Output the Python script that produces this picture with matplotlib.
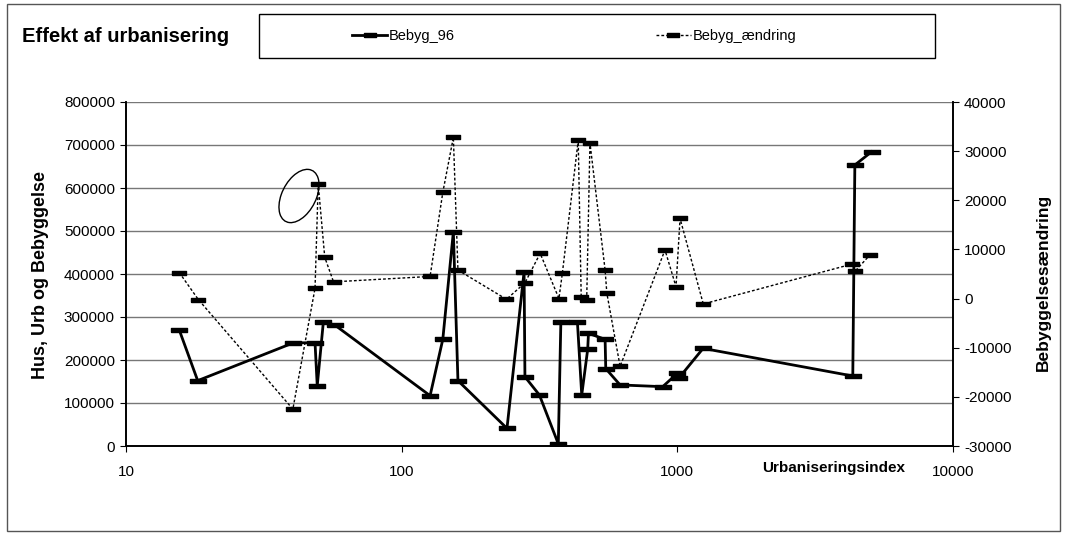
import matplotlib
matplotlib.use("Agg")
import matplotlib.pyplot as plt
from matplotlib.patches import Rectangle, Ellipse
from matplotlib.lines import Line2D

plt.rcParams['font.family'] = ['Liberation Sans', 'DejaVu Sans']

# Bebyg_96 (left axis)
bebyg96_x = [15.6, 18.2, 40.5, 48.5, 49.4, 52, 57.3, 126.8, 141, 154, 160,
             241, 278, 280, 316, 370, 378, 434, 450, 473, 476, 547, 550,
             620, 885, 1000, 1010, 1240, 4330, 4405, 5070]
bebyg96_y = [270000, 152000, 240000, 240000, 140000, 289000, 281000, 117000,
             248000, 498000, 152000, 41000, 405000, 161000, 118600, 5000,
             289000, 289000, 118600, 225000, 262000, 248000, 180000,
             142000, 138000, 169000, 157000, 227000, 162800, 653500, 684400]

# Bebyg_aendring (right axis)
aendring_x = [15.6, 18.3, 40.3, 48.5, 49.8, 52.6, 56.6, 126.8, 141, 154, 160,
              240, 280, 318, 372, 383, 437, 448, 469, 482, 547, 555, 620,
              902, 989, 1023, 1242, 4290, 4420, 5000]
aendring_y = [5300, -200, -22500, 2100, 23300, 8400, 3400, 4500, 21600, 32800,
              5800, -150, 3200, 9200, 0, 5300, 32200, 400, -300, 31700, 5800,
              1100, -13800, 9900, 2400, 16300, -1100, 7000, 5600, 8900]

left_ticks = [0, 100000, 200000, 300000, 400000, 500000, 600000, 700000, 800000]
right_ticks = [-30000, -20000, -10000, 0, 10000, 20000, 30000, 40000]
x_ticks = [10, 100, 1000, 10000]

W, H = 1067, 535
fig = plt.figure(figsize=(W / 100, H / 100), dpi=100)
ax = fig.add_axes([126 / W, 1 - 446 / H, (953 - 126) / W, (446 - 102) / H])
ax2 = ax.twinx()

# horizontal bar markers like the excel chart
bar = [(-1, -0.28), (1, -0.28), (1, 0.28), (-1, 0.28), (-1, -0.28)]

ax.plot(bebyg96_x, bebyg96_y, color='black', lw=2.0, marker=bar,
        markersize=11, zorder=3)
ax2.plot(aendring_x, aendring_y, color='black', lw=1.0, ls=(0, (2, 1.5)),
         marker=bar, markersize=10, zorder=3)

ax.set_xscale('log')
ax.set_xlim(10, 10000)
ax.set_ylim(0, 800000)
ax2.set_ylim(-30000, 40000)
ax.set_xticks(x_ticks)
ax.set_xticklabels([str(v) for v in x_ticks])
ax.xaxis.set_minor_locator(matplotlib.ticker.NullLocator())
ax.set_yticks(left_ticks)
ax.set_yticklabels([str(v) for v in left_ticks])
ax2.set_yticks(right_ticks)
ax2.set_yticklabels([str(v) for v in right_ticks])

for v in left_ticks:
    ax.axhline(v, color='#777777', lw=1.0, zorder=1)

ax.spines['top'].set_visible(False)
ax2.spines['top'].set_visible(False)
for a in (ax, ax2):
    for s in a.spines.values():
        s.set_linewidth(1.2)
ax.tick_params(axis='x', direction='out', length=4, pad=10, labelsize=11)
ax.tick_params(axis='y', direction='out', length=4, pad=4, labelsize=11)
ax2.tick_params(axis='y', direction='out', length=4, pad=4, labelsize=11)

fig.text(41 / W, 1 - 275 / H, 'Hus, Urb og Bebyggelse', rotation=90,
         ha='center', va='center', fontsize=13, fontweight='bold')
fig.text(1043 / W, 1 - 282 / H, 'Bebyggelsesændring', rotation=90,
         ha='center', va='center', fontsize=12.5, fontweight='bold')
fig.text(834 / W, 1 - 468 / H, 'Urbaniseringsindex', ha='center',
         va='center', fontsize=11, fontweight='bold')
fig.text(22 / W, 1 - 37 / H, 'Effekt af urbanisering', ha='left',
         va='center', fontsize=14.5, fontweight='bold')

# legend frame and entries
fig.patches.append(Rectangle((259 / W, 1 - 58 / H), 676 / W, 44 / H,
                             transform=fig.transFigure, fill=False,
                             edgecolor='black', lw=1.0))
h1 = Line2D([], [], color='black', lw=2.0, marker=bar, markersize=9)
h2 = Line2D([], [], color='black', lw=1.0, ls=(0, (2, 1.5)), marker=bar,
            markersize=8)
fig.legend([h1, h2], ['Bebyg_96', 'Bebyg_ændring'], ncol=2, frameon=False,
           loc='center left', bbox_to_anchor=(339 / W, 1 - 36 / H),
           fontsize=10.5, handlelength=2.4, handletextpad=0.1,
           columnspacing=13.8)

# outer chart border
fig.patches.append(Rectangle((7 / W, 1 - 531 / H), 1053 / W, 527 / H,
                             transform=fig.transFigure, fill=False,
                             edgecolor='#555555', lw=1.0))

# handwritten circle on the scan
fig.patches.append(Ellipse((299 / W, 1 - 196 / H), 36 / W, 54 / H, angle=-10,
                           transform=fig.transFigure, fill=False,
                           edgecolor='black', lw=1.0))

fig.savefig('out.png', dpi=100)
